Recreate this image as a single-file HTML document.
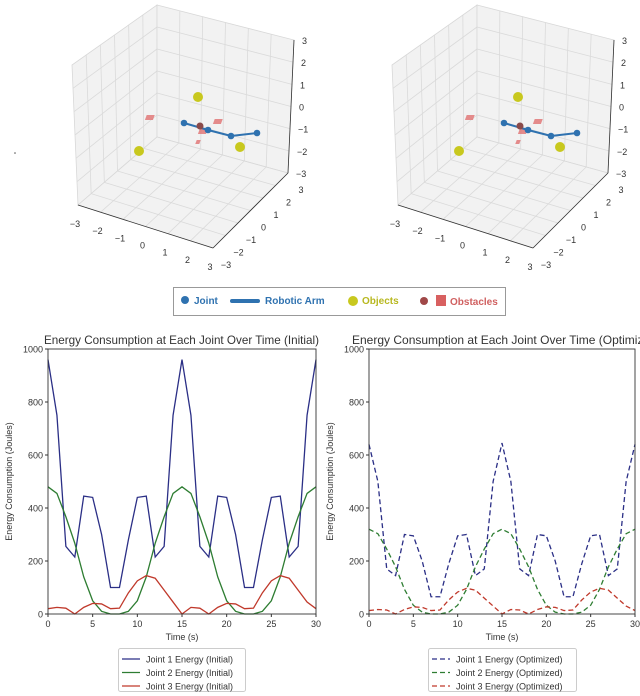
<!DOCTYPE html>
<html><head><meta charset="utf-8"><style>
body{margin:0;background:#fff;width:640px;height:696px;overflow:hidden;font-family:"Liberation Sans","DejaVu Sans",sans-serif}
svg{position:absolute;left:0;top:0}
text{fill:#333}
</style></head><body>
<svg id="s" width="640" height="696" viewBox="0 0 640 696"></svg>
<script>
const times=[0,1,2,3,4,5,6,7,8,9,10,11,12,13,14,15,16,17,18,19,20,21,22,23,24,25,26,27,28,29,30];
const j1Initial=[960,750,255,215,445,440,300,100,100,280,440,445,215,255,750,960,750,255,215,445,440,300,100,100,280,440,445,215,255,750,960];
const j2Initial=[480,455,367,267,140,50,10,0,0,10,50,140,267,367,455,480,455,367,267,140,50,10,0,0,10,50,140,267,367,455,480];
const j3Initial=[20,25,22,0,25,40,38,20,22,80,125,145,135,90,45,0,25,22,0,25,40,38,20,22,80,125,145,135,90,45,20];
const j1Opt=[640,500,170,145,300,295,200,65,65,190,295,300,145,170,500,645,500,170,145,300,295,200,65,65,190,295,300,145,170,500,640];
const j2Opt=[320,303,245,178,93,33,7,0,0,7,33,93,178,245,303,320,303,245,178,93,33,7,0,0,7,33,93,178,245,303,320];
const j3Opt=[13,17,15,0,17,27,25,13,15,53,83,97,90,60,30,0,17,15,0,17,27,25,13,15,53,83,97,90,60,30,13];
const yTicks=[0,200,400,600,800,1000];
const xTicks=[0,5,10,15,20,25,30];
const axisTicks3d=[-3,-2,-1,0,1,2,3];

const NS="http://www.w3.org/2000/svg";
const svg=document.getElementById('s');
function mk(tag,attrs,parent,txt){const e=document.createElementNS(NS,tag);for(const k in attrs)e.setAttribute(k,attrs[k]);if(txt!==undefined)e.textContent=txt;(parent||svg).appendChild(e);return e;}
function lerp(a,b,t){return [a[0]+(b[0]-a[0])*t,a[1]+(b[1]-a[1])*t];}

mk('circle',{cx:15,cy:153,r:0.8,fill:'#555'});

function draw3d(ox,name){
  const g=mk('g',{transform:`translate(${ox},0)`});
  
  
  const BT=[157,5],LT=[72,65],RT=[294,40],BB=[157,137],LB=[78,205],RB=[288,173],FB=[213,248];
  const walls=[[LT,BT,BB,LB],[BT,RT,RB,BB],[LB,BB,RB,FB]];
  walls.forEach(q=>{
    const p=mk('polygon',{points:q.map(v=>v.join(',')).join(' '),fill:'#f2f2f2',stroke:'#d8d8d8','stroke-width':0.8},g);
    
    for(let i=1;i<6;i++){const t=i/6;
      let a=lerp(q[0],q[1],t),b=lerp(q[3],q[2],t);
      mk('line',{x1:a[0],y1:a[1],x2:b[0],y2:b[1],stroke:'#dadada','stroke-width':0.8},g);
      a=lerp(q[0],q[3],t);b=lerp(q[1],q[2],t);
      mk('line',{x1:a[0],y1:a[1],x2:b[0],y2:b[1],stroke:'#dadada','stroke-width':0.8},g);}
  });
  mk('line',{x1:LB[0],y1:LB[1],x2:FB[0],y2:FB[1],stroke:'#333','stroke-width':0.8},g);
  mk('line',{x1:FB[0],y1:FB[1],x2:RB[0],y2:RB[1],stroke:'#333','stroke-width':0.8},g);
  mk('line',{x1:RT[0],y1:RT[1],x2:RB[0],y2:RB[1],stroke:'#333','stroke-width':0.8},g);
  axisTicks3d.forEach((v,i)=>{const t=i/6;
    const zl=lerp(RT,RB,t);
    let tx=mk('text',{x:zl[0]+8,y:zl[1]+4,'font-size':9},g,String(-v).replace('-','−'));
    const xl=lerp(LB,FB,t);
    tx=mk('text',{x:xl[0]-3,y:xl[1]+22,'font-size':9,'text-anchor':'middle'},g,String(v).replace('-','−'));
    const yl=lerp(FB,RB,t);
    tx=mk('text',{x:yl[0]+13,y:yl[1]+20,'font-size':9,'text-anchor':'middle'},g,String(v).replace('-','−'));
  });
  [[150,117],[218,121],[203,131],[200,142]].forEach((p,i)=>{const r=mk('rect',{x:p[0]-4,y:p[1]-2,width:i==3?4:8,height:i==3?4:5,fill:'#e07070',opacity:0.8,transform:`skewX(-20)`,'transform-origin':`${p[0]} ${p[1]}`},g);});
  [[198,97],[139,151],[240,147]].forEach(p=>{const c=mk('circle',{cx:p[0],cy:p[1],r:5,fill:'#c8c81e'},g);});
  const J=[[184,123],[208,130],[231,136],[257,133]];
  const arm=mk('polyline',{points:J.map(p=>p.join(',')).join(' '),fill:'none',stroke:'#2f72b0','stroke-width':2},g);
  
  mk('circle',{cx:200,cy:126,r:3.5,fill:'#8a4a4a'},g);
  J.forEach(p=>{const c=mk('circle',{cx:p[0],cy:p[1],r:3.3,fill:'#2f72b0'},g);});
}
draw3d(0,'robot-3d-plot-initial');
draw3d(320,'robot-3d-plot-optimized');

const lg=mk('g',{});

mk('rect',{x:173.5,y:287.5,width:332,height:28,fill:'#fff',stroke:'#999'},lg);
mk('circle',{cx:185,cy:300,r:4,fill:'#2f72b0'},lg);
mk('text',{x:194,y:304,'font-size':10,'font-weight':'bold',style:'fill:#2f72b0'},lg,'Joint');
mk('line',{x1:232,y1:301,x2:258,y2:301,stroke:'#2f72b0','stroke-width':4,'stroke-linecap':'round'},lg);
mk('text',{x:265,y:304,'font-size':10,'font-weight':'bold',style:'fill:#2f72b0'},lg,'Robotic Arm');
mk('circle',{cx:353,cy:301,r:5,fill:'#c8c81e'},lg);
mk('text',{x:362,y:304,'font-size':10,'font-weight':'bold',style:'fill:#b8b820'},lg,'Objects');
mk('circle',{cx:424,cy:301,r:4,fill:'#a04848'},lg);
mk('rect',{x:436,y:295,width:10,height:11,fill:'#d86060'},lg);
mk('text',{x:450,y:305,'font-size':10,'font-weight':'bold',style:'fill:#d06060'},lg,'Obstacles');

function lineChart(x0,x1,title,series,name,legendX,legendW,titleX,titleLen){
  const y0=614,y1=349;
  const sx=v=>x0+(v-0)/30*(x1-x0);
  const sy=v=>y0-(v/1000)*(y0-y1);
  const g=mk('g',{});
  
  const ta={x:titleX,y:344,'font-size':12};
  if(titleLen){ta.textLength=titleLen;ta.lengthAdjust='spacingAndGlyphs';}
  const t=mk('text',ta,g,title);
  
  yTicks.forEach(v=>{mk('line',{x1:x0-3,y1:sy(v),x2:x0,y2:sy(v),stroke:'#333'},g);
    const tx=mk('text',{x:x0-5,y:sy(v)+3.5,'font-size':9,'text-anchor':'end'},g,v);});
  xTicks.forEach(v=>{mk('line',{x1:sx(v),y1:y0,x2:sx(v),y2:y0+3,stroke:'#333'},g);
    const tx=mk('text',{x:sx(v),y:y0+13,'font-size':9,'text-anchor':'middle'},g,v);});
  let tx=mk('text',{x:(x0+x1)/2,y:640,'font-size':9,'text-anchor':'middle'},g,'Time (s)');
  tx=mk('text',{x:0,y:0,'font-size':9,'text-anchor':'middle',transform:`translate(${x0-36},${(y0+y1)/2}) rotate(-90)`},g,'Energy Consumption (Joules)');
  series.forEach(s=>{
    const p=mk('polyline',{points:times.map((tt,i)=>sx(tt)+','+sy(s.data[i])).join(' '),fill:'none',stroke:s.color,'stroke-width':1.3,'stroke-dasharray':s.dash||'none'},g);
    
  });
  mk('rect',{x:x0,y:y1,width:x1-x0,height:y0-y1,fill:'none',stroke:'#333','stroke-width':0.9},g);
  const L=mk('g',{},g);
  mk('rect',{x:legendX+0.5,y:648.5,width:legendW,height:43,fill:'#fff',stroke:'#ccc',rx:2},L);
  series.forEach((s,i)=>{const yy=659+i*13.5;
    mk('line',{x1:legendX+4,y1:yy,x2:legendX+22,y2:yy,stroke:s.color,'stroke-width':1.3,'stroke-dasharray':s.dash||'none'},L);
    const e=mk('text',{x:legendX+28,y:yy+3.5,'font-size':9},L,s.label);});
}
lineChart(48,316,'Energy Consumption at Each Joint Over Time (Initial)',[
 {id:'joint1-initial-line',data:j1Initial,color:'#2b2f86',label:'Joint 1 Energy (Initial)'},
 {id:'joint2-initial-line',data:j2Initial,color:'#2e7d32',label:'Joint 2 Energy (Initial)'},
 {id:'joint3-initial-line',data:j3Initial,color:'#c0392b',label:'Joint 3 Energy (Initial)'}],'energy-chart-initial',118,127,44,275);
lineChart(369,635,'Energy Consumption at Each Joint Over Time (Optimized)',[
 {id:'joint1-optimized-line',data:j1Opt,color:'#2b2f86',dash:'5,3',label:'Joint 1 Energy (Optimized)'},
 {id:'joint2-optimized-line',data:j2Opt,color:'#2e7d32',dash:'5,3',label:'Joint 2 Energy (Optimized)'},
 {id:'joint3-optimized-line',data:j3Opt,color:'#c0392b',dash:'5,3',label:'Joint 3 Energy (Optimized)'}],'energy-chart-optimized',428,148,352,0);
</script>
</body></html>
